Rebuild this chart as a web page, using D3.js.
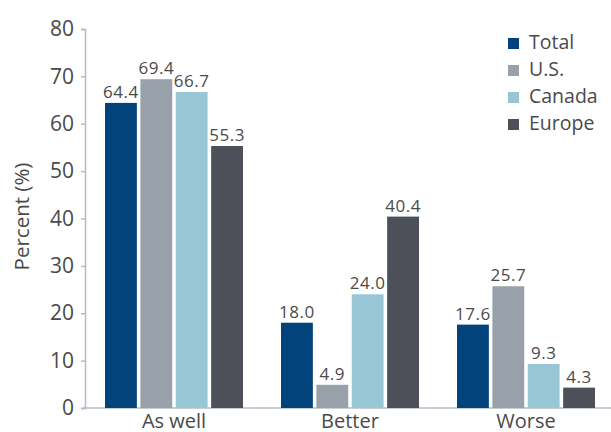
<!DOCTYPE html>
<html>
<head>
<meta charset="utf-8">
<script src="https://cdnjs.cloudflare.com/ajax/libs/d3/7.8.5/d3.min.js"></script>
<style>
  body { margin: 0; background: #fff; }
  text { font-family: "Open Sans", sans-serif; fill: #4a4a4a; }
</style>
</head>
<body>
<div id="chart"></div>
<script>
// chart data
const categories = ["As well", "Better", "Worse"];
const seriesNames = ["Total", "U.S.", "Canada", "Europe"];
const total = [64.4, 18.0, 17.6];
const us = [69.4, 4.9, 25.7];
const canada = [66.7, 24.0, 9.3];
const europe = [55.3, 40.4, 4.3];
const yTicks = [0, 10, 20, 30, 40, 50, 60, 70, 80];

const colors = ["#01437a", "#98a1aa", "#99c6d5", "#4d5059"];
const seriesValues = [total, us, canada, europe];

const width = 611;
const height = 432;
const marginLeft = 86;
const marginTop = 29;
const marginBottom = 24;

const svg = d3.select("#chart").append("svg")
  .attr("width", width)
  .attr("height", height);

const x0 = d3.scaleBand()
  .domain(categories)
  .range([marginLeft, 614])
  .paddingInner(0.216)
  .paddingOuter(0.108);

const x1 = d3.scaleBand()
  .domain(seriesNames)
  .range([0, x0.bandwidth()])
  .paddingInner(0.1)
  .paddingOuter(0);

const y = d3.scaleLinear()
  .domain([0, 80])
  .range([height - marginBottom, marginTop]);

// y axis
const yAxis = svg.append("g")
  .attr("transform", `translate(${marginLeft - 1},0)`)
  .call(d3.axisLeft(y).tickValues(yTicks).tickSize(4).tickPadding(7));
yAxis.select(".domain").attr("stroke", "#b3bcc6").attr("stroke-width", 1.5);
yAxis.selectAll(".tick line").attr("stroke", "#b3bcc6").attr("stroke-width", 1.5);
yAxis.selectAll(".tick text")
  .style("font-size", "21px")
  .attr("fill", "#4a4a4a");

// x axis
const xAxis = svg.append("g")
  .attr("transform", `translate(0,${y(0)})`)
  .call(d3.axisBottom(x0).tickSize(0).tickPadding(6).tickSizeOuter(0));
xAxis.select(".domain")
  .attr("d", `M${marginLeft - 3},0H${width}`)
  .attr("stroke", "#b3bcc6")
  .attr("stroke-width", 1.5);
xAxis.selectAll(".tick text")
  .style("font-size", "20px")
  .attr("fill", "#4a4a4a");

// bars
const groups = svg.append("g")
  .selectAll("g")
  .data(categories)
  .join("g")
  .attr("transform", d => `translate(${x0(d)},0)`);

groups.selectAll("rect")
  .data((d, i) => seriesNames.map((s, j) => ({ s: s, v: seriesValues[j][i], c: colors[j] })))
  .join("rect")
  .attr("x", d => x1(d.s))
  .attr("y", d => y(d.v))
  .attr("width", x1.bandwidth())
  .attr("height", d => y(0) - y(d.v))
  .attr("fill", d => d.c);

groups.selectAll("text.val")
  .data((d, i) => seriesNames.map((s, j) => ({ s: s, v: seriesValues[j][i] })))
  .join("text")
  .attr("class", "val")
  .attr("x", d => x1(d.s) + x1.bandwidth() / 2)
  .attr("y", d => y(d.v) - 5)
  .attr("text-anchor", "middle")
  .style("font-size", "17px")
  .style("letter-spacing", "0.5px")
  .text(d => d.v.toFixed(1));

// y title
svg.append("text")
  .attr("transform", `translate(29,${y(40) - 2}) rotate(-90)`)
  .attr("text-anchor", "middle")
  .style("font-size", "20.5px")
  .text("Percent (%)");

// legend
const legend = svg.append("g")
  .attr("transform", "translate(508,33)");
seriesNames.forEach(function (name, i) {
  const g = legend.append("g").attr("transform", `translate(0,${i * 27})`);
  g.append("rect")
    .attr("x", 0)
    .attr("y", 5)
    .attr("width", 11)
    .attr("height", 11)
    .attr("fill", colors[i]);
  g.append("text")
    .attr("x", 21)
    .attr("y", 16)
    .style("font-size", "19.5px")
    .text(name);
});
</script>
</body>
</html>
